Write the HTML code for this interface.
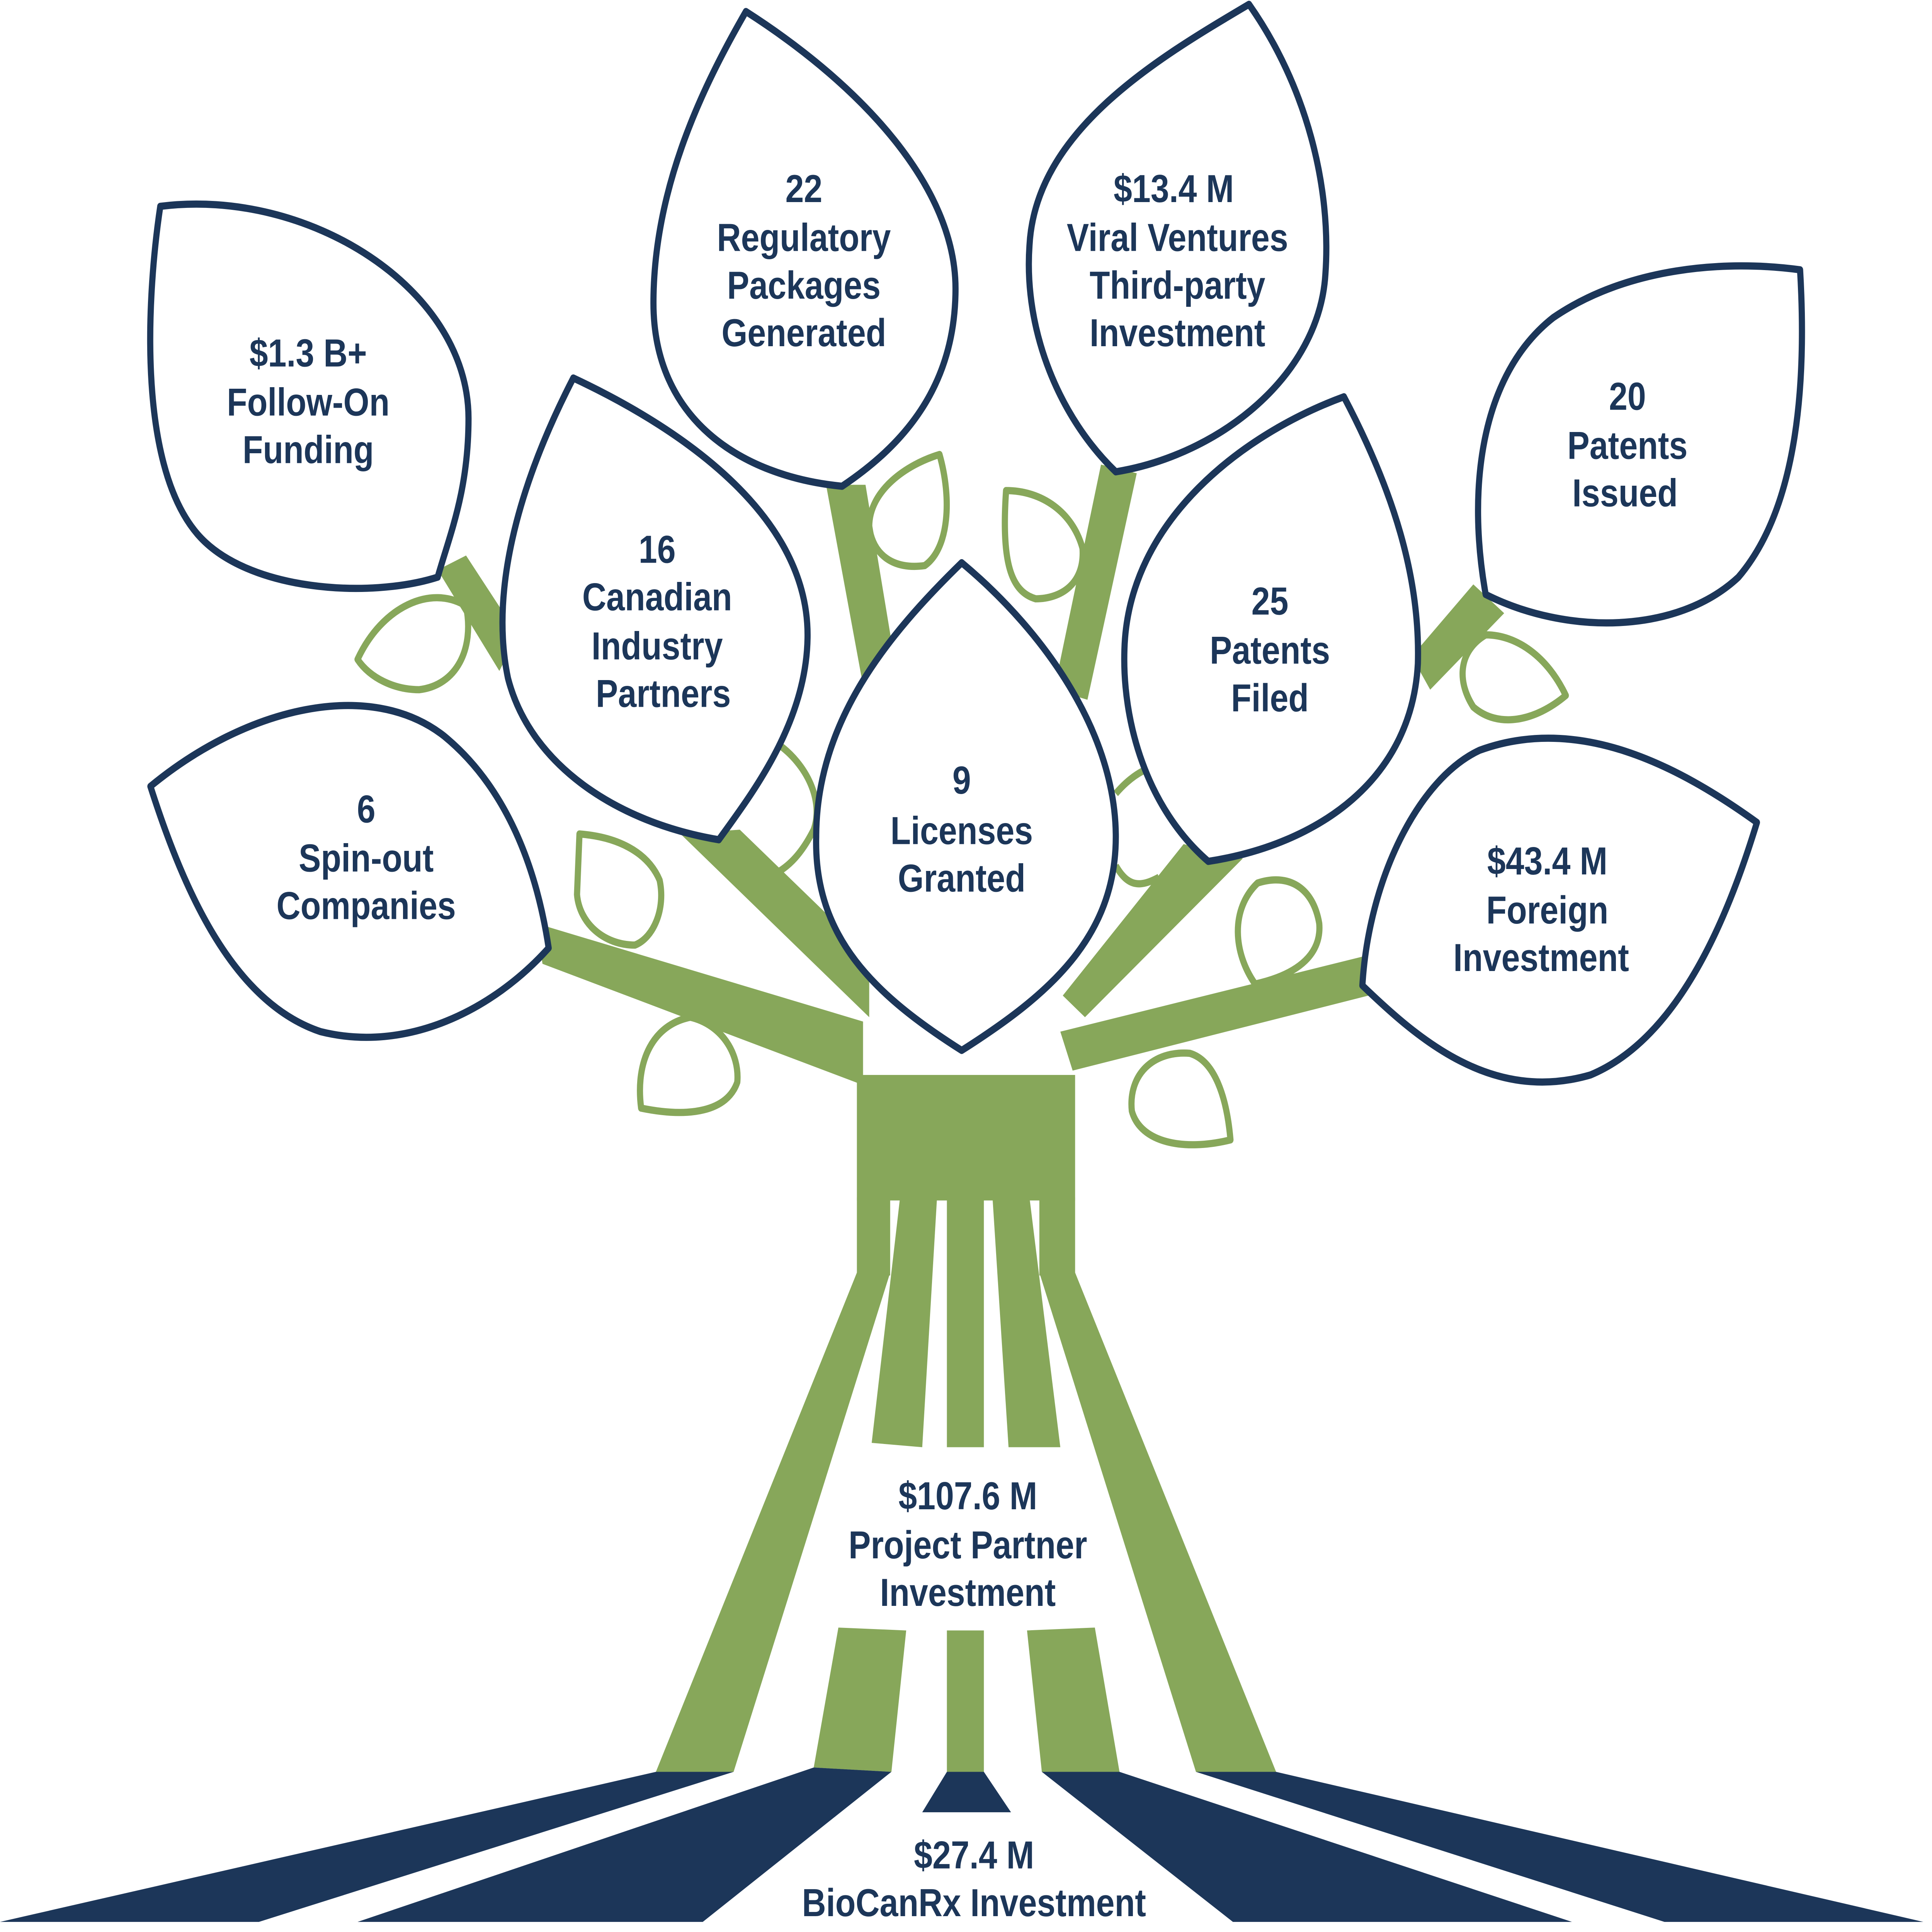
<!DOCTYPE html>
<html><head><meta charset="utf-8"><style>
html,body{margin:0;padding:0;background:#fff;width:100vw;height:100vh;overflow:hidden;}
svg{display:block;width:100vw;height:100vh;position:absolute;left:0;top:0;}
text{font-family:"Liberation Sans",sans-serif;font-weight:bold;fill:#1c3659;font-size:27px;text-anchor:middle;}
</style></head><body>
<svg viewBox="0 0 1567 1339" preserveAspectRatio="none" xmlns="http://www.w3.org/2000/svg">
<rect width="1567" height="1339" fill="#fff"/>
<g fill="none" stroke="#87a75a" stroke-width="5" stroke-linejoin="round">
<path d="M290,457 C310,420 350,405 378,420 C385,450 370,475 340,478 C320,478 300,470 290,457Z"/>
<path d="M470,578 C500,580 525,590 535,610 C540,630 530,650 515,655 C490,655 470,640 468,620Z"/>
<path d="M520,768 C515,735 530,710 560,705 C585,710 600,730 598,750 C590,770 560,775 520,768Z"/>
<path d="M762,315 C772,345 770,380 750,392 C725,395 708,385 705,365 C705,340 735,322 762,315Z"/>
<path d="M816,340 C845,340 870,355 878,380 C880,405 860,415 840,415 C820,410 812,390 816,340Z"/>
<path d="M1270,482 C1255,455 1230,440 1205,440 C1185,450 1180,470 1195,490 C1215,505 1245,500 1270,482Z"/>
<path d="M1018,682 C1000,660 998,630 1020,612 C1045,605 1065,615 1070,640 C1072,660 1055,675 1018,682Z"/>
<path d="M998,790 C995,760 985,735 965,730 C935,728 915,745 918,770 C925,792 960,798 998,790Z"/>
<path d="M630,515 C655,530 668,555 660,575 C650,592 640,600 630,605"/>
<path d="M905,550 C920,535 935,530 945,530 M905,600 C915,615 925,615 940,608"/>
</g>
<g fill="#87a75a" stroke="none">
<polygon points="435,640 700,708 700,752 440,668"/>
<polygon points="552,578 600,575 705,662 705,705"/>
<polygon points="355,395 378,385 420,440 405,465"/>
<polygon points="670,336 702,336 728,470 700,475"/>
<polygon points="893,322 922,328 882,485 855,478"/>
<polygon points="960,585 1008,595 880,705 862,690"/>
<polygon points="1105,663 1110,690 870,742 860,715"/>
<polygon points="1195,405 1220,425 1160,478 1145,455"/>
<rect x="695" y="745" width="177" height="87"/>
<rect x="695" y="830" width="27" height="54"/>
<polygon points="695,882 722,882 595,1228 532,1228"/>
<polygon points="730,830 760,830 748,1003 707,1000"/>
<polygon points="768,830 798,830 798,1003 768,1003"/>
<polygon points="805,830 835,830 860,1003 818,1003"/>
<rect x="843" y="830" width="29" height="54"/>
<polygon points="843,882 872,882 1035,1228 970,1228"/>
<polygon points="680,1128 735,1130 723,1228 660,1225"/>
<rect x="768" y="1130" width="30" height="98"/>
<polygon points="833,1130 888,1128 908,1228 845,1228"/>
</g>
<g fill="#1c3659">
<polygon points="532,1228 595,1228 210,1332 0,1332"/>
<polygon points="660,1225 723,1228 570,1332 290,1332"/>
<polygon points="768,1228 798,1228 820,1256 748,1256"/>
<polygon points="845,1228 908,1228 1275,1332 1000,1332"/>
<polygon points="970,1228 1035,1228 1560,1332 1350,1332"/>
</g>
<g fill="#fff" stroke="#1c3659" stroke-width="5" stroke-linejoin="round">
<path d="M130,143 C250,130 380,200 380,290 C380,340 365,370 355,400 C300,415 200,410 160,370 C110,320 120,200 130,143Z"/>
<path d="M465,262 C560,300 655,360 655,440 C655,500 610,550 583,582 C500,570 430,530 412,470 C395,400 430,320 465,262Z"/>
<path d="M122,545 C200,490 300,470 360,510 C410,545 435,600 445,657 C400,700 330,730 260,715 C190,695 150,620 122,545Z"/>
<path d="M605,8 C700,60 775,130 775,200 C775,270 730,310 683,337 C600,330 530,290 530,210 C530,130 570,60 605,8Z"/>
<path d="M1013,3 C1060,60 1080,130 1075,190 C1070,260 990,315 905,327 C860,290 830,230 835,170 C840,90 940,40 1013,3Z"/>
<path d="M1090,275 C1130,340 1152,400 1150,460 C1145,540 1070,585 980,597 C930,560 910,500 912,450 C915,360 1010,300 1090,275Z"/>
<path d="M1460,187 C1465,260 1460,350 1410,400 C1360,440 1270,440 1205,412 C1190,340 1200,260 1260,220 C1320,185 1400,180 1460,187Z"/>
<path d="M1425,570 C1400,640 1360,720 1290,745 C1210,765 1150,720 1105,683 C1110,610 1150,540 1200,520 C1280,495 1360,530 1425,570Z"/>
<path d="M780,390 C850,440 905,510 905,580 C905,650 850,690 780,728 C710,690 660,650 662,580 C662,500 720,440 780,390Z"/>
</g>
<text x="250" y="254">$1.3 B+</text><text x="250" y="288">Follow-On</text><text x="250" y="321">Funding</text>
<text x="533" y="390">16</text><text x="533" y="423">Canadian</text><text x="533" y="457">Industry</text><text x="538" y="490">Partners</text>
<text x="297" y="570">6</text><text x="297" y="604">Spin-out</text><text x="297" y="637">Companies</text>
<text x="652" y="140">22</text><text x="652" y="174">Regulatory</text><text x="652" y="207">Packages</text><text x="652" y="240">Generated</text>
<text x="952" y="140">$13.4 M</text><text x="955" y="174">Viral Ventures</text><text x="955" y="207">Third-party</text><text x="955" y="240">Investment</text>
<text x="780" y="550">9</text><text x="780" y="585">Licenses</text><text x="780" y="618">Granted</text>
<text x="1030" y="426">25</text><text x="1030" y="460">Patents</text><text x="1030" y="493">Filed</text>
<text x="1320" y="284">20</text><text x="1320" y="318">Patents</text><text x="1318" y="351">Issued</text>
<text x="1255" y="606">$43.4 M</text><text x="1255" y="640">Foreign</text><text x="1250" y="673">Investment</text>
<text x="785" y="1046">$107.6 M</text><text x="785" y="1080">Project Partner</text><text x="785" y="1113">Investment</text>
<text x="790" y="1295">$27.4 M</text><text x="790" y="1328">BioCanRx Investment</text>
</svg>
</body></html>
